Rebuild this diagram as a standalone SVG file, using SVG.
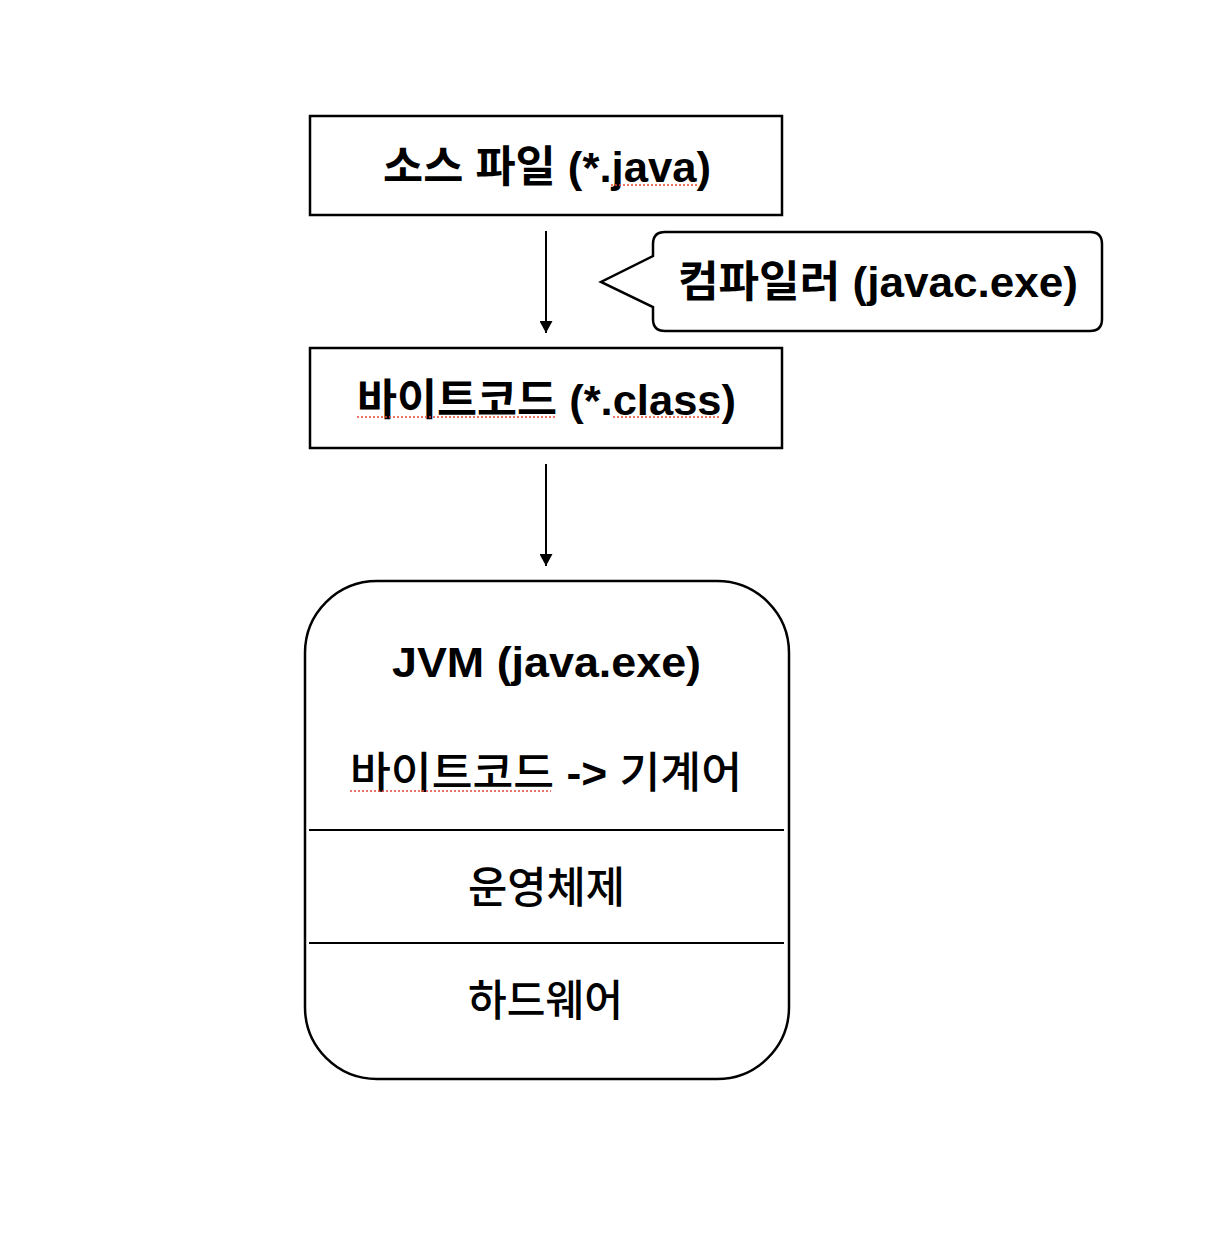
<svg xmlns="http://www.w3.org/2000/svg" width="1232" height="1244" viewBox="0 0 1232 1244">
<style>
.box{fill:#fff;stroke:#000;stroke-width:2.5}
.lbl{font-family:"Liberation Sans","Noto Sans CJK KR",sans-serif;font-size:43px;font-weight:bold;fill:#000;text-anchor:middle}
.med{font-weight:500}
.wire{stroke:#000;stroke-width:2;fill:none}
.spell{stroke:#e8443a;stroke-width:1.5;stroke-dasharray:2 2;fill:none}
</style>
<defs>
<marker id="ah" viewBox="0 0 12 13" refX="12" refY="6.5" markerWidth="12" markerHeight="13" markerUnits="userSpaceOnUse" orient="auto">
<path d="M0,0 L12,6.5 L0,13 Z" fill="#000"/>
</marker>
</defs>
<rect width="1232" height="1244" fill="#fff"/>
<g id="connectors">
<line class="wire" x1="546" y1="231" x2="546" y2="333" marker-end="url(#ah)"/>
<line class="wire" x1="546" y1="464" x2="546" y2="566" marker-end="url(#ah)"/>
</g>
<g id="source">
<rect class="box" x="310" y="116" width="472" height="99"/>
<text class="lbl" x="547" y="182" textLength="328" lengthAdjust="spacingAndGlyphs">소스 파일 (*.java)</text>
<line class="spell" x1="611" y1="185" x2="697" y2="185"/>
</g>
<g id="compiler">
<path class="box" d="M665,232 H1090 Q1102,232 1102,244 V319 Q1102,331 1090,331 H665 Q653,331 653,319 V307 L601,282 L653,256 V244 Q653,232 665,232 Z"/>
<text class="lbl" x="878" y="297" textLength="400" lengthAdjust="spacingAndGlyphs">컴파일러 (javac.exe)</text>
</g>
<g id="bytecode">
<rect class="box" x="310" y="348" width="472" height="100"/>
<text class="lbl" x="546.5" y="415" textLength="379" lengthAdjust="spacingAndGlyphs">바이트코드 (*.class)</text>
<line class="spell" x1="357" y1="417" x2="557" y2="417"/>
<line class="spell" x1="613" y1="417" x2="721" y2="417"/>
</g>
<g id="jvm">
<rect class="box" x="305" y="581" width="484" height="498" rx="72" ry="72"/>
<text class="lbl" x="546.5" y="677" textLength="309" lengthAdjust="spacingAndGlyphs">JVM (java.exe)</text>
<text class="lbl med" x="546" y="788" textLength="392" lengthAdjust="spacingAndGlyphs">바이트코드 <tspan font-weight="bold">-&gt;</tspan> 기계어</text>
<line class="spell" x1="350" y1="791" x2="551" y2="791"/>
<line class="wire" x1="309" y1="830" x2="784" y2="830" stroke-width="2.5"/>
<text class="lbl med" x="546.5" y="903" textLength="157" lengthAdjust="spacingAndGlyphs">운영체제</text>
<line class="wire" x1="309" y1="943" x2="784" y2="943" stroke-width="2.5"/>
<text class="lbl med" x="545.5" y="1016" textLength="155" lengthAdjust="spacingAndGlyphs">하드웨어</text>
</g>
</svg>
